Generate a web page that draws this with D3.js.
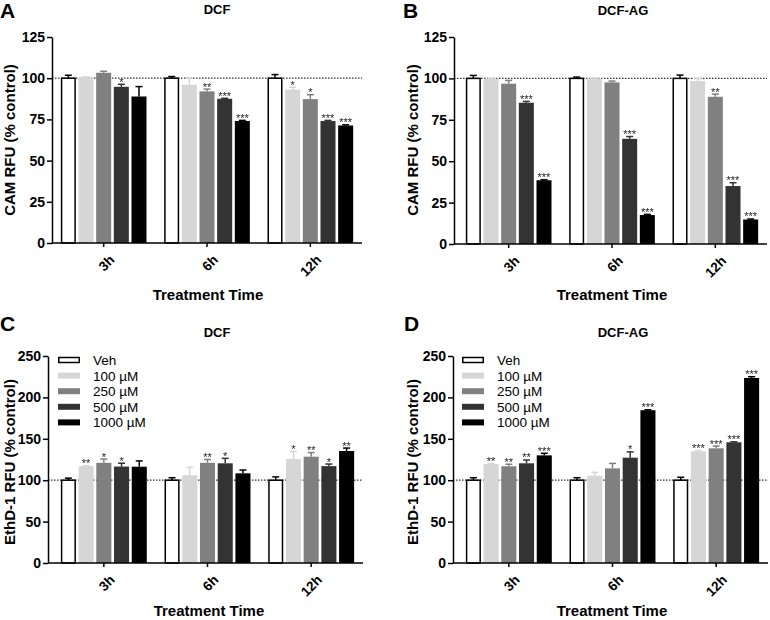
<!DOCTYPE html>
<html>
<head>
<meta charset="utf-8">
<script src="https://cdn.jsdelivr.net/npm/d3@7"></script>
<style>
  body { margin: 0; background: #fff; }
  svg { font-family: "Liberation Sans", Arial, sans-serif; }
  .axis path, .axis line { stroke: #000; stroke-width: 1.5px; }
  .axis text { font-size: 14px; font-weight: bold; fill: #000; }
</style>
</head>
<body>
<svg width="770" height="620"></svg>
<script>
"use strict";
// categories
var groups = ["3h", "6h", "12h"];
var series = ["Veh", "100 µM", "250 µM", "500 µM", "1000 µM"];

// A: CAM, DCF
var camDcf    = [[100, 100.5, 103.3, 94.8, 88.9], [100, 96, 92, 87.5, 74], [100, 93, 87.3, 74, 71.3]];
var camDcfErr = [[1.8, 0.3, 0.9, 1.5, 6], [1, 4, 1.4, 0.3, 0.4], [2.2, 1.5, 2.7, 0.4, 0.4]];
var camDcfSig = [["", "", "", "*", ""], ["", "", "**", "***", "***"], ["", "*", "*", "***", "***"]];

// B: CAM, DCF-AG
var camAg    = [[100, 99.8, 96.8, 85.3, 38.5], [100, 100, 97.6, 63.5, 17.5], [100, 98.4, 88.9, 35, 14.8]];
var camAgErr = [[1.8, 0.2, 2, 0.8, 0.3], [0.8, 0.2, 0.8, 1.4, 0.4], [2, 1.5, 1.6, 2, 0.3]];
var camAgSig = [["", "", "", "***", "***"], ["", "", "", "***", "***"], ["", "", "**", "***", "***"]];

// C: EthD-1, DCF
var ethDcf    = [[100, 117, 121, 116.5, 116.3], [100, 106, 121, 120.4, 108.3], [100, 125.6, 128.4, 117, 135.3]];
var ethDcfErr = [[2.5, 0.6, 4.5, 4, 7], [3, 9.5, 4, 6, 4], [4, 9, 5, 2.5, 3.5]];
var ethDcfSig = [["", "**", "*", "*", ""], ["", "", "**", "*", ""], ["", "*", "**", "*", "**"]];

// D: EthD-1, DCF-AG
var ethAg    = [[100, 119.6, 116.8, 120.4, 130], [100, 105.5, 114.3, 127.2, 184.5], [100, 134.9, 138.5, 145.8, 223.5]];
var ethAgErr = [[3, 0.6, 2.5, 4, 2.5], [3, 4, 6, 7, 0.6], [3.5, 1, 2.8, 0.6, 1.5]];
var ethAgSig = [["", "**", "**", "**", "***"], ["", "", "", "*", "***"], ["", "***", "***", "***", "***"]];

var fills = ["#ffffff", "#d6d6d6", "#808080", "#333333", "#000000"];
var errColors = ["#000000", "#d6d6d6", "#808080", "#333333", "#000000"];

var svg = d3.select("svg");

// no-op filter, makes the small star text rasterise in greyscale
svg.append("defs").append("filter").attr("id", "flat")
  .append("feOffset").attr("dx", 0).attr("dy", 0);

var panels = [
  { letter: "A", title: "DCF", ylab: "CAM RFU (% control)", vals: camDcf, err: camDcfErr, sig: camDcfSig,
    axisX: 52, band: [52, 362], top: 37, bottom: 243, max: 125, step: 25,
    letterPos: [0, 18], titlePos: [217, 14], ylabPos: [15, 140], xlabPos: [208, 300], legend: false },
  { letter: "B", title: "DCF-AG", ylab: "CAM RFU (% control)", vals: camAg, err: camAgErr, sig: camAgSig,
    axisX: 454, band: [457, 767], top: 37, bottom: 244, max: 125, step: 25,
    letterPos: [403, 18], titlePos: [623, 15], ylabPos: [418, 140], xlabPos: [612, 300], legend: false },
  { letter: "C", title: "DCF", ylab: "EthD-1 RFU (% control)", vals: ethDcf, err: ethDcfErr, sig: ethDcfSig,
    axisX: 48, band: [52, 363], top: 356, bottom: 563, max: 250, step: 50,
    letterPos: [0, 331], titlePos: [217, 337], ylabPos: [15, 462], xlabPos: [209, 616], legend: [58, 360] },
  { letter: "D", title: "DCF-AG", ylab: "EthD-1 RFU (% control)", vals: ethAg, err: ethAgErr, sig: ethAgSig,
    axisX: 453, band: [457, 768], top: 356, bottom: 563, max: 250, step: 50,
    letterPos: [404, 331], titlePos: [623, 337], ylabPos: [418, 462], xlabPos: [612, 616], legend: [462, 360] }
];

panels.forEach(drawPanel);

function drawPanel(p) {
  var g = svg.append("g");

  var x0 = d3.scaleBand().domain(groups).range(p.band).padding(0);
  var x1 = d3.scaleBand().domain(series).range([0, x0.bandwidth()])
    .paddingInner(0.15).paddingOuter(0.5);
  var y = d3.scaleLinear().domain([0, p.max]).range([p.bottom, p.top]);

  // dotted 100% line
  g.append("line")
    .attr("x1", p.axisX).attr("x2", p.band[1])
    .attr("y1", y(100)).attr("y2", y(100))
    .attr("stroke", "#333").attr("stroke-width", 1.2)
    .attr("stroke-dasharray", "1.5,1.5");

  var rows = [];
  groups.forEach(function (grp, gi) {
    series.forEach(function (s, si) {
      rows.push({ grp: grp, s: s, si: si, v: p.vals[gi][si], e: p.err[gi][si], sig: p.sig[gi][si] });
    });
  });

  // error bars (upper only)
  var eb = g.selectAll(".err").data(rows).enter().append("g")
    .attr("stroke", function (d) { return errColors[d.si]; })
    .attr("stroke-width", 1.5);
  eb.append("line")
    .attr("x1", function (d) { return x0(d.grp) + x1(d.s) + x1.bandwidth() / 2; })
    .attr("x2", function (d) { return x0(d.grp) + x1(d.s) + x1.bandwidth() / 2; })
    .attr("y1", function (d) { return y(d.v); })
    .attr("y2", function (d) { return y(d.v + d.e); });
  eb.append("line")
    .attr("x1", function (d) { return x0(d.grp) + x1(d.s) + x1.bandwidth() / 2 - 3.5; })
    .attr("x2", function (d) { return x0(d.grp) + x1(d.s) + x1.bandwidth() / 2 + 3.5; })
    .attr("y1", function (d) { return y(d.v + d.e); })
    .attr("y2", function (d) { return y(d.v + d.e); });

  // bars
  g.selectAll(".bar").data(rows).enter().append("rect")
    .attr("x", function (d) { return x0(d.grp) + x1(d.s) + (d.si === 0 ? 0.75 : 0); })
    .attr("width", function (d) { return x1.bandwidth() - (d.si === 0 ? 1.5 : 0); })
    .attr("y", function (d) { return y(d.v); })
    .attr("height", function (d) { return y(0) - y(d.v); })
    .attr("fill", function (d) { return fills[d.si]; })
    .attr("stroke", function (d) { return d.si === 0 ? "#000" : "none"; })
    .attr("stroke-width", 1.5);

  // significance stars
  g.append("g").attr("filter", "url(#flat)")
    .selectAll(".sig").data(rows.filter(function (d) { return d.sig; })).enter().append("text")
    .attr("x", function (d) { return x0(d.grp) + x1(d.s) + x1.bandwidth() / 2; })
    .attr("y", function (d) { return y(d.v + d.e) + 1.5; })
    .attr("text-anchor", "middle")
    .style("font-size", "11px")
    .attr("fill", "#222")
    .text(function (d) { return d.sig; });

  // y axis
  g.append("g").attr("class", "axis")
    .attr("transform", "translate(" + p.axisX + ",0)")
    .call(d3.axisLeft(y).tickValues(d3.range(0, p.max + 1, p.step)).tickSize(5).tickSizeOuter(0).tickPadding(2));

  // x axis
  var xa = g.append("g").attr("class", "axis")
    .attr("transform", "translate(0," + p.bottom + ")")
    .call(d3.axisBottom(x0).tickSize(4).tickSizeOuter(0));
  xa.select(".domain").attr("d", "M" + p.axisX + ",0H" + p.band[1]);
  xa.selectAll(".tick text")
    .attr("text-anchor", "end")
    .attr("transform", "translate(5,11) rotate(-45)")
    .attr("dy", "0.71em")
    .attr("y", 0).attr("x", 0)
    .style("font-size", "13.5px");

  // labels
  g.append("text").attr("x", p.letterPos[0]).attr("y", p.letterPos[1])
    .style("font-size", "21px").style("font-weight", "bold").text(p.letter);
  g.append("text").attr("x", p.titlePos[0]).attr("y", p.titlePos[1])
    .attr("text-anchor", "middle").style("font-size", "13px").style("font-weight", "bold").text(p.title);
  g.append("text")
    .attr("transform", "translate(" + p.ylabPos[0] + "," + p.ylabPos[1] + ") rotate(-90)")
    .attr("text-anchor", "middle").style("font-size", "15px").style("font-weight", "bold").text(p.ylab);
  g.append("text").attr("x", p.xlabPos[0]).attr("y", p.xlabPos[1])
    .attr("text-anchor", "middle").style("font-size", "15px").style("font-weight", "bold").text("Treatment Time");

  // legend
  if (p.legend) {
    var lg = g.append("g").attr("transform", "translate(" + p.legend[0] + "," + p.legend[1] + ")");
    var item = lg.selectAll(".li").data(series).enter().append("g")
      .attr("transform", function (d, i) { return "translate(0," + (i * 15.6) + ")"; });
    item.append("rect")
      .attr("x", function (d, i) { return i === 0 ? 0.75 : 0; })
      .attr("y", function (d, i) { return i === 0 ? -2.5 : -3; })
      .attr("width", function (d, i) { return i === 0 ? 20.5 : 22; })
      .attr("height", function (d, i) { return i === 0 ? 5 : 6; })
      .attr("fill", function (d, i) { return fills[i]; })
      .attr("stroke", function (d, i) { return i === 0 ? "#000" : "none"; })
      .attr("stroke-width", 1.5);
    item.append("text")
      .attr("x", 35).attr("y", 5)
      .style("font-size", "13.5px")
      .text(function (d) { return d; });
  }
}
</script>
</body>
</html>
